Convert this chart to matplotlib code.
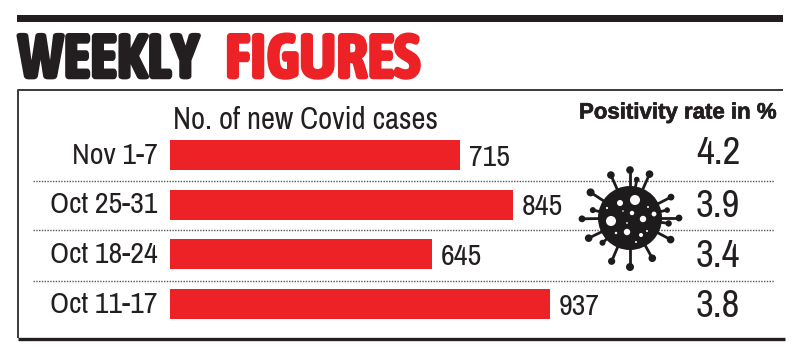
import numpy as np
import matplotlib
matplotlib.use("Agg")
import matplotlib.pyplot as plt
import matplotlib.patheffects as pe
from matplotlib.patches import Circle, Rectangle

weeks = ["Nov 1-7", "Oct 25-31", "Oct 18-24", "Oct 11-17"]
cases = [715, 845, 645, 937]
positivity = ["4.2", "3.9", "3.4", "3.8"]

RED = "#ec2227"
INK = "#231f20"
NARROW = ["Archivo Narrow", "Roboto", "DejaVu Sans"]
HEAVY = ["Asap Condensed", "Liberation Sans", "DejaVu Sans"]
W, H = 800, 353
fig = plt.figure(figsize=(W / 100, H / 100), dpi=100, facecolor="white")

ov = fig.add_axes([0, 0, 1, 1])
ov.set_xlim(0, W)
ov.set_ylim(H, 0)
ov.axis("off")

PX = 0.4055
x0, row0, rowstep = 170, 155, 49.7
ax = fig.add_axes([0, 0, 1, 1], facecolor="none")
ax.set_xlim(-x0 / PX, (W - x0) / PX)
ax.set_ylim((H - row0) / rowstep, -row0 / rowstep)
ax.axis("off")
ax.barh(range(len(cases)), cases, height=0.6, color=RED, linewidth=0)

for i, (w, c, p) in enumerate(zip(weeks, cases, positivity)):
    ax.annotate(w, (0, i), xytext=(-12, 0), textcoords="offset pixels", ha="right",
                va="center", fontsize=21.5, color=INK, family=NARROW)
    ax.annotate(str(c), (c, i), xytext=(9, -2), textcoords="offset pixels", ha="left",
                va="center", fontsize=21.5, color=INK, family=NARROW)
    ov.text(718, row0 + rowstep * i + (-1 if i == 0 else 2), p, ha="center", va="center",
            fontsize=28, color=INK, family=NARROW)

ov.add_patch(Rectangle((17, 15), 766, 6.5, color=INK, lw=0))
ov.plot([18, 18, 783], [338, 89.5, 89.5], color="#3a3a3a", lw=1.4, solid_capstyle="butt")
ov.plot([18, 785], [338.5, 338.5], color=INK, lw=2.4, solid_capstyle="butt")
for y in (180.5, 229.5, 280.5):
    ov.plot([33, 774], [y, y], color="#555555", lw=1, ls=(0, (1, 1)))

ov.text(18, 78, "WEEKLY", fontsize=45, family=HEAVY, weight="bold",
        color=INK, ha="left", va="baseline",
        path_effects=[pe.withStroke(linewidth=1.8, foreground=INK)])
ov.text(225, 78, "FIGURES", fontsize=45, family=HEAVY, weight="bold",
        color=RED, ha="left", va="baseline",
        path_effects=[pe.withStroke(linewidth=1.8, foreground=RED)])

ov.text(173, 120, "No. of new Covid cases", fontsize=22, color=INK, family=NARROW,
        ha="left", va="center")
ov.text(579, 113, "Positivity rate in %", fontsize=16, weight="bold", color=INK,
        family=["Liberation Sans", "DejaVu Sans"], ha="left", va="center",
        path_effects=[pe.withStroke(linewidth=0.5, foreground=INK)])

# Virus icon: body, spikes with round tips, light spots
cx, cy, r = 630, 218, 32
DARK = "#1d1b1c"
ov.add_patch(Circle((cx, cy), r, color=DARK, lw=0, zorder=5))
spikes = [(90, 48, 3.8), (66, 48, 3.8), (80, 39, 2.8), (114, 47, 3.8), (147, 47, 4),
          (168, 38, 3), (181, 48, 3.4), (206, 46, 3.8), (222, 37, 3), (247, 47, 3.6),
          (270, 49, 4), (299, 46, 3.8), (332, 46, 3.8), (352, 39, 3.2), (0, 49, 3.4),
          (27, 46, 3.4), (12, 38, 2.8)]
for ang, length, tip in spikes:
    a = np.deg2rad(ang)
    ex, ey = cx + length * np.cos(a), cy - length * np.sin(a)
    ov.plot([cx, ex], [cy, ey], color=DARK, lw=2, zorder=4)
    ov.add_patch(Circle((ex, ey), tip, color=DARK, lw=0, zorder=5))
holes = [(-19, 3, 5), (-10, -15, 3), (5, -18, 5), (2, -5, 2.2), (13, 1, 3.2), (24, -4, 2.4),
         (-3, 14, 3.2), (11, 17, 2), (-14, 15, 1.2), (-3, 5, 0.9), (17, 13, 1), (6, 24, 1),
         (18, -11, 1), (-23, -10, 1.1), (-7, -7, 0.8)]
for dx, dy, rr in holes:
    ov.add_patch(Circle((cx + dx, cy + dy), rr, color="white", lw=0, zorder=6))

fig.savefig("out.png", dpi=100, facecolor="white")
